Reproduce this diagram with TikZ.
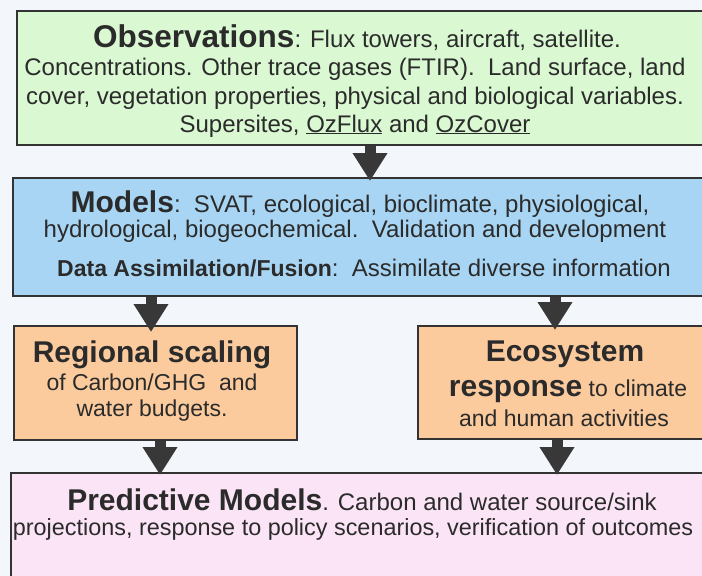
\documentclass[tikz,border=0pt]{standalone}
\usepackage{fontspec}
\setmainfont{Liberation Sans}
\usetikzlibrary{arrows.meta}
\definecolor{bgc}{HTML}{F3F7FB}
\definecolor{obsc}{HTML}{DAF8D2}
\definecolor{modc}{HTML}{A8D5F3}
\definecolor{orac}{HTML}{FBCB9D}
\definecolor{prec}{HTML}{FBE4F6}
\definecolor{edgec}{HTML}{333333}
\definecolor{txtc}{HTML}{2B2B2B}
\definecolor{arrc}{HTML}{383838}
\newcommand{\rgf}{\fontsize{23}{28}\selectfont}
\newcommand{\rgb}{\fontsize{24}{28}\selectfont}
\newcommand{\ttlf}{\fontsize{30}{34}\selectfont\bfseries}
\tikzset{
  boxst/.style={draw=edgec, line width=2.2pt, rectangle, inner sep=0pt, anchor=north west},
  linest/.style={anchor=base, inner sep=0pt, text=txtc, font=\rgf},
  bigline/.style={linest, font=\rgb},
  arr/.style={draw=arrc, line width=11pt, -{Triangle[length=28pt,width=33pt]}}
}
\begin{document}
\begin{tikzpicture}[x=1pt,y=-1pt]
\fill[bgc] (0,0) rectangle (702,576);
\useasboundingbox (0,0) rectangle (702,576);
\clip (0,0) rectangle (702,576);
% boxes
\node[boxst, fill=obsc, minimum width=709pt, minimum height=134pt] (obs) at (16,10) {};
\node[boxst, fill=modc, minimum width=713pt, minimum height=118pt] (mod) at (12,177) {};
\node[boxst, fill=orac, minimum width=283pt, minimum height=114pt] (reg) at (13,325) {};
\node[boxst, fill=orac, minimum width=308pt, minimum height=113pt] (eco) at (417,325) {};
\node[boxst, fill=prec, minimum width=715pt, minimum height=128pt] (pre) at (10,472) {};
% connector columns
\coordinate (xa) at (370,0);
\coordinate (xb) at (151,0);
\coordinate (xc) at (555,0);
\coordinate (xd) at (160,0);
\coordinate (xe) at (557,0);
% text: observations
\node[bigline] (o1) at (357,47) {{\fontsize{31.5}{34}\selectfont\bfseries Observations}: Flux towers, aircraft, satellite.};
\node[bigline] (o2) at (355,75) {Concentrations. Other trace gases (FTIR).\ \ Land surface, land};
\node[bigline] (o3) at (355,104) {cover, vegetation properties, physical and biological variables.};
\node[bigline] (o4) at (355,132) {Supersites, \underline{OzFlux} and \underline{OzCover}};
% models
\node[bigline] (m1) at (360,212) {{\ttlf Models}:\ \ SVAT, ecological, bioclimate, physiological,};
\node[bigline] (m2) at (355,237) {hydrological, biogeochemical.\ \ Validation and development};
\node[bigline] (m3) at (364,276) {{\fontsize{23}{26}\selectfont\bfseries Data Assimilation/Fusion}:\ \ Assimilate diverse information};
% regional
\node[linest] (r1) at (152,362) {\ttlf Regional scaling};
\node[linest] (r2) at (152,390) {of Carbon/GHG\ \ and};
\node[linest] (r3) at (152,416) {water budgets.};
% ecosystem
\node[linest] (e1) at (565,361) {\ttlf Ecosystem};
\node[linest] (e2) at (568,396) {{\ttlf response} to climate};
\node[linest] (e3) at (564,426) {and human activities};
% predictive
\node[bigline] (p1) at (362,510) {{\ttlf Predictive Models}. Carbon and water source/sink};
\node[linest, font=\fontsize{23.4}{28}\selectfont] (p2) at (353,535) {projections, response to policy scenarios, verification of outcomes};
% arrows
\draw[arr] (obs.south -| xa) -- ([yshift=-4pt]mod.north -| xa);
\draw[arr] (mod.south -| xb) -- ([yshift=-7pt]reg.north -| xb);
\draw[arr] (mod.south -| xc) -- ([yshift=-5pt]eco.north -| xc);
\draw[arr] (reg.south -| xd) -- ([yshift=-3pt]pre.north -| xd);
\draw[arr] (eco.south -| xe) -- ([yshift=-3pt]pre.north -| xe);
\end{tikzpicture}
\end{document}
